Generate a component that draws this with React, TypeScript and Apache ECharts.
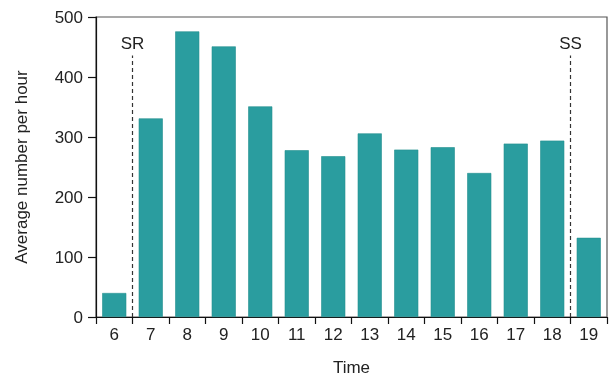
import React, { useEffect, useRef } from "react";
import * as echarts from "echarts";

const hours = ["6", "7", "8", "9", "10", "11", "12", "13", "14", "15", "16", "17", "18", "19"];
const averages = [40, 331, 476, 451, 351, 278, 268, 306, 279, 283, 240, 289, 294, 132];
const yTicks = { min: 0, max: 500, interval: 100 };
const markers = [
  { name: "SR", x: 6.5 },
  { name: "SS", x: 18.5 },
];
const markerTop = 436;

const FONT = "Liberation Sans, Arial, Helvetica, sans-serif";
const FS = 17;

export default function App() {
  const ref = useRef<HTMLDivElement>(null);
  useEffect(() => {
    if (!ref.current) return;
    const chart = echarts.init(ref.current, undefined, { renderer: "svg" });
    chart.setOption({
      animation: false,
      textStyle: { fontFamily: FONT },
      grid: {
        left: 96,
        right: 5,
        top: 17,
        bottom: 59,
        containLabel: false,
        outerBoundsMode: "none",
        show: true,
        borderColor: "#555",
        borderWidth: 1.2,
        backgroundColor: "transparent",
      },
      xAxis: [
        {
          type: "category",
          data: hours,
          boundaryGap: true,
          name: "Time",
          nameLocation: "middle",
          nameGap: 42,
          nameTextStyle: { fontSize: FS, color: "#222", fontFamily: FONT },
          axisLine: { show: true, lineStyle: { color: "#111", width: 1.2 } },
          axisTick: { show: true, length: 7, lineStyle: { color: "#111", width: 1.2 } },
          axisLabel: { fontSize: FS, color: "#222", margin: 9, fontFamily: FONT },
          splitLine: { show: false },
        },
        {
          type: "value",
          min: 5.5,
          max: 19.5,
          show: false,
        },
      ],
      yAxis: {
        type: "value",
        min: yTicks.min,
        max: yTicks.max,
        interval: yTicks.interval,
        name: "Average number per hour",
        nameLocation: "middle",
        nameGap: 66,
        nameTextStyle: { fontSize: FS, color: "#222", fontFamily: FONT },
        axisLine: { show: true, lineStyle: { color: "#111", width: 1.2 } },
        axisTick: { show: true, length: 8, lineStyle: { color: "#111", width: 1.2 } },
        axisLabel: { fontSize: FS, color: "#222", margin: 13, fontFamily: FONT },
        splitLine: { show: false },
      },
      series: [
        {
          type: "bar",
          data: averages,
          barCategoryGap: "34%",
          itemStyle: { color: "#2a9d9f", borderColor: "#23908f", borderWidth: 0.6 },
        },
        {
          type: "line",
          xAxisIndex: 1,
          data: [],
          markLine: {
            silent: true,
            symbol: ["none", "none"],
            lineStyle: { type: [4, 3], color: "#333", width: 1.2 },
            label: {
              show: true,
              position: "end",
              fontSize: FS,
              color: "#222",
              fontFamily: FONT,
              distance: 3,
              formatter: (p: any) => p.name,
            },
            data: markers.map((m) => [
              { name: m.name, coord: [m.x, 0] },
              { coord: [m.x, markerTop] },
            ]),
          },
        },
      ],
    });
    return () => chart.dispose();
  }, []);
  return (
    <div
      ref={ref}
      style={{ position: "fixed", left: 0, top: 0, width: 612, height: 376 }}
    />
  );
}
